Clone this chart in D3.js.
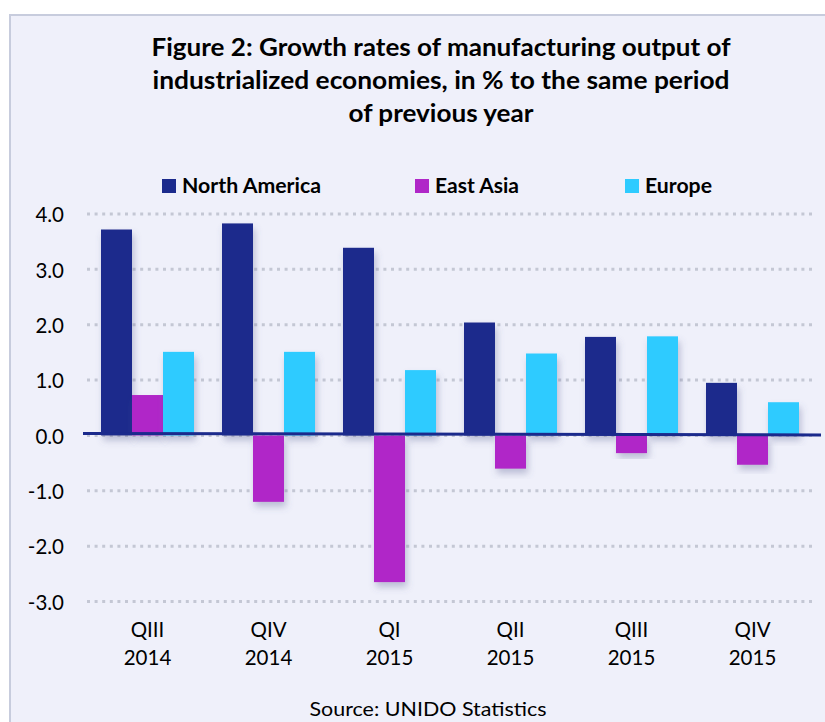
<!DOCTYPE html>
<html><head><meta charset="utf-8">
<script src="https://cdn.jsdelivr.net/npm/d3@7"></script>
<style>
html,body{margin:0;padding:0;background:#fff;}
text{font-family:Lato,"Open Sans",sans-serif;fill:#000;}
</style></head>
<body>
<svg id="chart" width="825" height="722"></svg>
<script>
const categories = [["QIII","2014"],["QIV","2014"],["QI","2015"],["QII","2015"],["QIII","2015"],["QIV","2015"]];
const seriesNames = ["North America","East Asia","Europe"];
const northAmerica = [3.72, 3.83, 3.39, 2.04, 1.78, 0.95];
const eastAsia     = [0.73, -1.20, -2.65, -0.60, -0.32, -0.53];
const europe       = [1.51, 1.51, 1.18, 1.48, 1.79, 0.60];
const yTicks = [4, 3, 2, 1, 0, -1, -2, -3];
const titleLines = ["Figure 2: Growth rates of manufacturing output of","industrialized economies, in % to the same period","of previous year"];
const sourceText = "Source: UNIDO Statistics";

const colors = ["#1B2A8C","#B027C8","#2ECBFF"];
const seriesValues = [northAmerica, eastAsia, europe];

const svg = d3.select("#chart");
const defs = svg.append("defs");
const f = defs.append("filter").attr("id","shadow").attr("x","-30%").attr("y","-10%").attr("width","170%").attr("height","140%");
f.append("feDropShadow").attr("dx",2).attr("dy",5).attr("stdDeviation",3.5).attr("flood-color","#5a6190").attr("flood-opacity",0.35);

// frame
svg.append("rect").attr("x",10).attr("y",15).attr("width",830).attr("height",720)
  .attr("fill","#EFF0FA").attr("stroke","#C7CCDD").attr("stroke-width",2);

// title
const titleWidths = [579, 577, 185];
svg.append("g").selectAll("text").data(titleLines).join("text")
  .attr("x",441).attr("y",(d,i)=>56+i*33)
  .attr("text-anchor","middle").attr("font-size",24.5).attr("font-weight",700)
  .attr("textLength",(d,i)=>titleWidths[i]).attr("lengthAdjust","spacingAndGlyphs")
  .text(d=>d);

// scales
const x0 = d3.scaleBand().domain(d3.range(categories.length)).range([87,813]).paddingInner(28/121).paddingOuter(14/121);
const x1 = d3.scaleBand().domain(d3.range(seriesNames.length)).range([0,x0.bandwidth()]);
const y = d3.scaleLinear().domain([-3,4]).range([601.5,214]);

// gridlines
svg.append("g").selectAll("line").data(yTicks).join("line")
  .attr("x1",87).attr("x2",813).attr("y1",d=>y(d)).attr("y2",d=>y(d))
  .attr("stroke","#C4C7D4").attr("stroke-width",3).attr("stroke-dasharray","3 4.6");

// y axis labels
const yAxis = d3.axisLeft(y).tickValues(yTicks).tickFormat(d=>d.toFixed(1)).tickSize(0).tickPadding(0);
const ya = svg.append("g").attr("transform","translate(64,0)").call(yAxis);
ya.select(".domain").remove();
ya.selectAll("text").attr("font-size",20.5).attr("fill","#000").attr("dy","0.38em")
  .style("font-family","Lato,sans-serif");

// bars
const groups = svg.append("g").selectAll("g").data(categories).join("g")
  .attr("transform",(d,i)=>`translate(${x0(i)},0)`);
groups.selectAll("rect").data((d,i)=>seriesValues.map((s,j)=>({s:j,v:s[i]}))).join("rect")
  .attr("x",d=>x1(d.s)).attr("width",x1.bandwidth())
  .attr("y",d=>Math.min(y(0),y(d.v))).attr("height",d=>Math.abs(y(d.v)-y(0)))
  .attr("fill",d=>colors[d.s]).attr("filter","url(#shadow)");

// zero axis line
svg.append("line").attr("x1",83).attr("x2",821).attr("y1",y(0)-2).attr("y2",y(0)-0.5)
  .attr("stroke","#1B2A8C").attr("stroke-width",3);

// x labels
const xl = svg.append("g").selectAll("g").data(categories).join("g")
  .attr("transform",(d,i)=>`translate(${x0(i)+x0.bandwidth()/2},0)`);
xl.append("text").attr("y",637).attr("text-anchor","middle").attr("font-size",20.5).text(d=>d[0]);
xl.append("text").attr("y",665).attr("text-anchor","middle").attr("font-size",20.5).text(d=>d[1]);

// legend
const legX = [162, 415, 625];
const legW = [139, 84, 67];
const lg = svg.append("g").selectAll("g").data(seriesNames).join("g")
  .attr("transform",(d,i)=>`translate(${legX[i]},0)`);
lg.append("rect").attr("x",0).attr("y",179).attr("width",14).attr("height",14).attr("fill",(d,i)=>colors[i]);
lg.append("text").attr("x",20).attr("y",193).attr("font-size",21).attr("font-weight",700)
  .attr("textLength",(d,i)=>legW[i]).attr("lengthAdjust","spacingAndGlyphs").text(d=>d);

// source
svg.append("text").attr("x",428).attr("y",716).attr("text-anchor","middle").attr("font-size",20)
  .attr("textLength",237).attr("lengthAdjust","spacingAndGlyphs").text(sourceText);
</script>
</body></html>
